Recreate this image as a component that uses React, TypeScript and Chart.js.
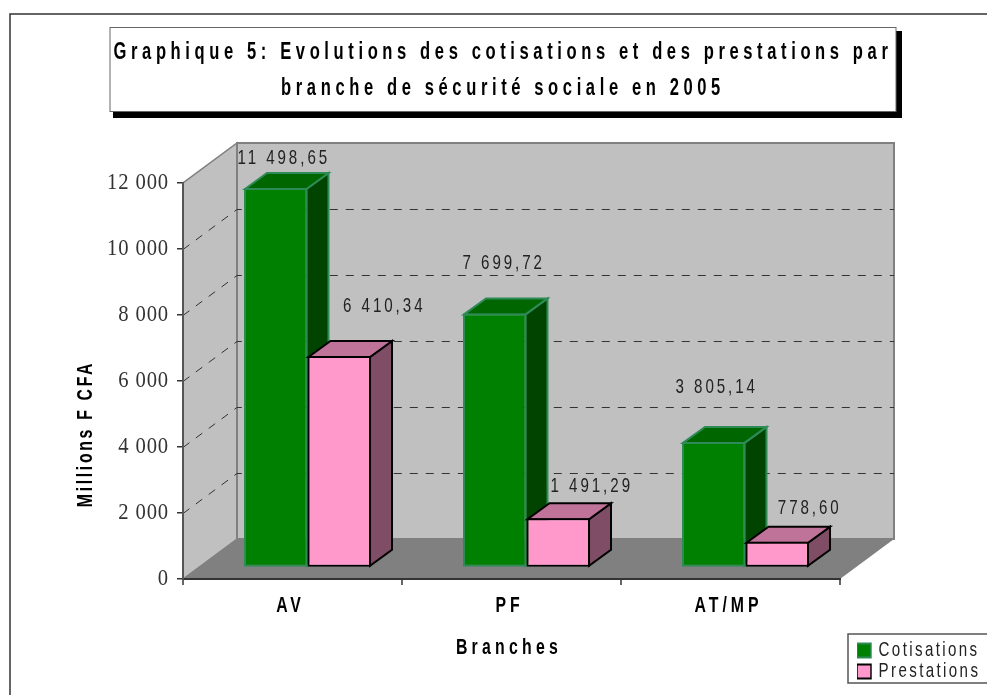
import React, { useEffect, useRef } from "react";
import { Chart, registerables } from "chart.js";

Chart.register(...registerables);

const categories = ["AV", "PF", "AT/MP"];
const seriesNames = ["Cotisations", "Prestations"];
const cotisations = [11498.65, 7699.72, 3805.14];
const prestations = [6410.34, 1491.29, 778.6];
const titleLines = [
  "Graphique 5: Evolutions des cotisations et des prestations par",
  "branche de sécurité sociale en 2005",
];
const yAxisTitle = "Millions F CFA";
const xAxisTitle = "Branches";

const SANS = "'Liberation Sans', Arial, sans-serif";
const SERIF = "'Liberation Serif', serif";

const WALL_DX = 54;
const WALL_DY = 40;
const BAR_SHIFT_X = 15;
const BAR_SHIFT_Y = 11.5;
const BAR_DX = 22;
const BAR_DY = 16;
const NARROW = 0.72;

// label anchor offsets from the centre-top of each front face (dataset → category)
const labelOffsets = [
  [[8, -30], [9, -50], [3, -55]],
  [[45, -50], [33.5, -32], [32.5, -34]],
];
const barFaces = [
  { top: "#006600", side: "#004400", edge: "#2E8B57" },
  { top: "#BF7399", side: "#804D66", edge: "#000000" },
];

const fmtThousands = (n: number) => String(n).replace(/\B(?=(\d{3})+(?!\d))/g, " ");
const fmtValue = (n: number) => {
  const [a, b] = n.toFixed(2).split(".");
  return fmtThousands(Number(a)) + "," + b;
};

const poly = (ctx: any, pts: number[][], fill: string, stroke?: string, lw = 1) => {
  ctx.beginPath();
  pts.forEach((p, i) => (i ? ctx.lineTo(p[0], p[1]) : ctx.moveTo(p[0], p[1])));
  ctx.closePath();
  ctx.fillStyle = fill;
  ctx.fill();
  if (stroke) {
    ctx.strokeStyle = stroke;
    ctx.lineWidth = lw;
    ctx.lineJoin = "miter";
    ctx.stroke();
  }
};

const wrap = (obj: any, name: string, before: (ctx: any) => void) => {
  const orig = obj[name].bind(obj);
  obj[name] = (...args: any[]) => {
    const ctx = obj.ctx;
    ctx.save();
    before(ctx);
    orig(...args);
    ctx.restore();
  };
};

const drawBarSides = (ctx: any, meta: any, index: number) => {
  const face = barFaces[index];
  meta.data.forEach((el: any) => {
    const l = el.x - el.width / 2 + 1;
    const r = el.x + el.width / 2 - 1;
    const t = el.y + 1;
    const b = el.base - 1;
    poly(ctx, [[r, t], [r + BAR_DX, t - BAR_DY], [r + BAR_DX, b - BAR_DY], [r, b]], face.side, face.edge, 2);
    poly(ctx, [[l, t], [l + BAR_DX, t - BAR_DY], [r + BAR_DX, t - BAR_DY], [r, t]], face.top, face.edge, 2);
  });
};

const scene3d = {
  id: "scene3d",
  afterLayout(chart: any) {
    const lg = chart.legend;
    lg.left = 857;
    lg.top = 640;
    lg.right = 1300;
    lg.bottom = 684;
    const tb = chart.titleBlock;
    tb.left = -500;
    tb.right = 1340;
  },
  beforeDraw(chart: any) {
    const { ctx, chartArea: a, scales } = chart;
    if (!chart.$wrapped) {
      chart.$wrapped = true;
      wrap(scales.y, "drawLabels", (c) => {
        c.letterSpacing = "1px";
        c.translate(169, 0);
        c.scale(0.86, 1);
        c.translate(-169, 0);
      });
      wrap(scales.y, "drawTitle", (c) => {
        c.letterSpacing = "3.7px";
        c.translate(0, 434);
        c.scale(1, NARROW);
        c.translate(0, -381);
      });
      scales.x.drawLabels = (area: any) => {
        const c = scales.x.ctx;
        scales.x.getLabelItems(area).forEach((it: any) => {
          c.save();
          c.letterSpacing = "5.5px";
          c.translate(it.options.translation[0] - 2, it.options.translation[1]);
          c.scale(NARROW, 1);
          c.font = it.font.string;
          c.fillStyle = it.options.color;
          c.textAlign = it.options.textAlign;
          c.textBaseline = it.options.textBaseline;
          c.fillText(it.label, 0, it.textOffset);
          c.restore();
        });
      };
      wrap(scales.x, "drawTitle", (c) => {
        c.letterSpacing = "5.9px";
        c.translate(509, 1);
        c.scale(NARROW, 1);
        c.translate(-511.5, 0);
      });
      wrap(chart.titleBlock, "draw", (c) => {
        c.letterSpacing = "6.4px";
        c.translate(503, 1.5);
        c.scale(0.72, 1);
        c.translate(-420, 0);
      });
      wrap(chart.legend, "draw", (c) => {
        c.letterSpacing = "3.3px";
        c.translate(857, 0);
        c.scale(NARROW, 1);
        c.translate(-857, 0);
      });
    }
    const L = a.left, R = a.right, T = a.top, B = a.bottom;
    ctx.save();
    ctx.fillStyle = "#fff";
    ctx.fillRect(0, 0, chart.width, chart.height);

    // outer frame
    ctx.strokeStyle = "#333";
    ctx.lineWidth = 1.5;
    ctx.beginPath();
    ctx.moveTo(10, 695);
    ctx.lineTo(10, 14);
    ctx.lineTo(987, 14);
    ctx.stroke();

    // title box with shadow
    ctx.fillStyle = "#000";
    ctx.fillRect(113, 31, 789, 87);
    ctx.fillStyle = "#fff";
    ctx.fillRect(110, 27.5, 786, 84);
    ctx.strokeStyle = "#666";
    ctx.lineWidth = 1;
    ctx.strokeRect(110, 27.5, 786, 84);

    // walls & floor
    poly(ctx, [[L, B], [L + WALL_DX, B - WALL_DY], [L + WALL_DX, T - WALL_DY], [L, T]], "#C0C0C0", "#808080", 1.5);
    poly(ctx, [[L + WALL_DX, T - WALL_DY], [R + WALL_DX, T - WALL_DY], [R + WALL_DX, B - WALL_DY], [L + WALL_DX, B - WALL_DY]], "#C0C0C0", "#808080", 2);
    poly(ctx, [[L, B], [L + WALL_DX, B - WALL_DY], [R + WALL_DX, B - WALL_DY], [R, B]], "#808080");

    // gridlines on the walls
    ctx.strokeStyle = "#333";
    ctx.lineWidth = 1;
    ctx.setLineDash([8, 8]);
    scales.y.ticks.forEach((t: any) => {
      if (t.value === scales.y.min || t.value === scales.y.max) return;
      const y = Math.round(scales.y.getPixelForValue(t.value)) + 0.5;
      ctx.beginPath();
      ctx.moveTo(L, y);
      ctx.lineTo(L + WALL_DX, y - WALL_DY);
      ctx.lineTo(R + WALL_DX, y - WALL_DY);
      ctx.stroke();
    });
    ctx.setLineDash([]);

    // legend frame
    ctx.fillStyle = "#fff";
    ctx.fillRect(848, 634, 145, 49);
    ctx.strokeStyle = "#555";
    ctx.lineWidth = 1.5;
    ctx.strokeRect(848, 634, 145, 49);
    ctx.restore();
  },
  beforeDatasetsDraw(chart: any) {
    chart.ctx.save();
    chart.ctx.translate(BAR_SHIFT_X, -BAR_SHIFT_Y);
  },
  beforeDatasetDraw(chart: any, args: any) {
    // Prestations stand in front of Cotisations: they are drawn right after them.
    if (args.index === 1) return false;
    drawBarSides(chart.ctx, args.meta, args.index);
  },
  afterDatasetDraw(chart: any, args: any) {
    if (args.index !== 0) return;
    const meta = chart.getDatasetMeta(1);
    drawBarSides(chart.ctx, meta, 1);
    meta.controller.draw();
  },
  afterDatasetsDraw(chart: any) {
    const { ctx, data } = chart;
    ctx.restore();
    data.datasets.forEach((ds: any, d: number) => {
      chart.getDatasetMeta(d).data.forEach((el: any, i: number) => {
        const [ox, oy] = labelOffsets[d][i];
        ctx.save();
        ctx.font = `21px ${SANS}`;
        ctx.letterSpacing = "4.1px";
        ctx.fillStyle = "#222";
        ctx.textAlign = "center";
        ctx.textBaseline = "middle";
        ctx.translate(el.x + BAR_SHIFT_X + ox, el.y - BAR_SHIFT_Y + oy);
        ctx.scale(NARROW, 1);
        ctx.fillText(fmtValue(ds.data[i]), 0, 0);
        ctx.restore();
      });
    });
  },
};

export default function App() {
  const ref = useRef<HTMLCanvasElement>(null);
  useEffect(() => {
    const chart = new Chart(ref.current as HTMLCanvasElement, {
      type: "bar",
      data: {
        labels: categories,
        datasets: [
          {
            label: seriesNames[0],
            data: cotisations,
            backgroundColor: "#008000",
            borderColor: "#2E8B57",
            borderWidth: 2,
            borderSkipped: false,
            clip: false,
          },
          {
            label: seriesNames[1],
            data: prestations,
            backgroundColor: "#FF99CC",
            borderColor: "#000000",
            borderWidth: 2,
            borderSkipped: false,
            clip: false,
          },
        ] as any,
      },
      options: {
        responsive: false,
        animation: false,
        devicePixelRatio: 1,
        datasets: { bar: { categoryPercentage: 0.58, barPercentage: 1 } },
        layout: { padding: { top: 0, left: 0, right: 147, bottom: 0 } },
        plugins: {
          tooltip: { enabled: false },
          title: {
            display: true,
            text: titleLines,
            color: "#000",
            font: { family: SANS, size: 23, weight: "bold", lineHeight: 36 / 23 },
            padding: { top: 33, bottom: 78 },
          },
          legend: {
            display: true,
            position: "chartArea",
            align: "start",
            labels: {
              color: "#222",
              font: { family: SANS, size: 21, lineHeight: 20 / 21 },
              boxWidth: 14 / NARROW,
              boxHeight: 14,
              padding: 0,
            },
          },
        },
        scales: {
          x: {
            grid: { drawOnChartArea: false, drawTicks: true, tickLength: 6, color: "#666", offset: true, lineWidth: 2 },
            border: { color: "#333", width: 2 },
            ticks: {
              color: "#000",
              font: { family: SANS, size: 22, weight: "bold" },
              maxRotation: 0,
              autoSkip: false,
              padding: 8,
            },
            title: {
              display: true,
              text: xAxisTitle,
              color: "#000",
              font: { family: SANS, size: 22, weight: "bold" },
              padding: { top: 14, bottom: 35 },
            },
            afterFit: (s: any) => {
              s.height = 116;
            },
          },
          y: {
            min: 0,
            max: 12000,
            grid: { drawOnChartArea: false, drawTicks: true, tickLength: 6, color: "#333", lineWidth: 1.5 },
            border: { color: "#555", width: 2 },
            ticks: {
              stepSize: 2000,
              color: "#333",
              font: { family: SERIF, size: 24 },
              padding: 8,
              callback: (v: any) => fmtThousands(Number(v)),
            },
            title: {
              display: true,
              text: yAxisTitle,
              color: "#000",
              font: { family: SANS, size: 22, weight: "bold" },
              padding: { top: 73, bottom: 0 },
            },
            afterFit: (s: any) => {
              s.width = 183;
            },
          },
        },
      } as any,
      plugins: [scene3d as any],
    });
    return () => chart.destroy();
  }, []);
  return (
    <canvas
      ref={ref}
      width={987}
      height={695}
      style={{ position: "fixed", left: 0, top: 0, width: 987, height: 695 }}
    />
  );
}
